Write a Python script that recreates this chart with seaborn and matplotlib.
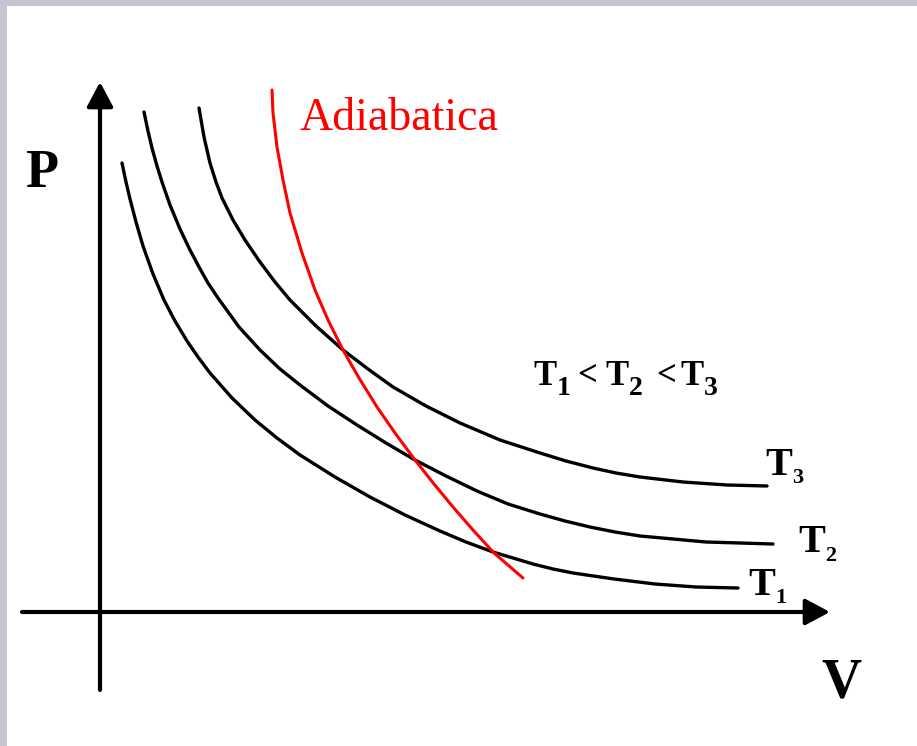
import numpy as np
import pandas as pd
import matplotlib
matplotlib.use("Agg")
import matplotlib.pyplot as plt
import seaborn as sns

# ---- data (V, P in arbitrary units, origin at the axes crossing) ----
t1_v = [0.22, 0.26, 0.30, 0.36, 0.43, 0.53, 0.64, 0.75, 0.87, 0.98, 1.10, 1.32, 1.55, 1.77, 2.00,
        2.35, 2.70, 3.05, 3.40, 3.66, 3.93, 4.13, 4.33, 4.53, 4.73, 5.14, 5.55, 5.96, 6.38]
t1_p = [4.49, 4.30, 4.13, 3.90, 3.66, 3.38, 3.12, 2.91, 2.71, 2.55, 2.39, 2.14, 1.92, 1.74, 1.57,
        1.35, 1.15, 0.97, 0.81, 0.70, 0.60, 0.54, 0.48, 0.43, 0.39, 0.33, 0.28, 0.25, 0.24]

t2_v = [0.44, 0.48, 0.52, 0.57, 0.62, 0.70, 0.80, 0.90, 0.99, 1.08, 1.18, 1.39, 1.60, 1.80, 2.00,
        2.28, 2.57, 2.86, 3.15, 3.46, 3.77, 4.08, 4.40, 4.65, 4.90, 5.15, 5.40, 5.73, 6.06, 6.40, 6.73]
t2_p = [5.00, 4.81, 4.64, 4.46, 4.30, 4.07, 3.83, 3.62, 3.45, 3.29, 3.14, 2.85, 2.62, 2.43, 2.27,
        2.06, 1.87, 1.69, 1.52, 1.36, 1.21, 1.08, 0.98, 0.91, 0.85, 0.80, 0.76, 0.73, 0.70, 0.69, 0.68]

t3_v = [0.99, 1.04, 1.10, 1.16, 1.22, 1.33, 1.45, 1.60, 1.75, 1.90, 2.16, 2.43, 2.68, 2.93, 3.26,
        3.60, 4.00, 4.40, 4.66, 4.93, 5.16, 5.40, 5.83, 6.27, 6.67]
t3_p = [5.04, 4.75, 4.49, 4.30, 4.14, 3.92, 3.72, 3.50, 3.30, 3.12, 2.86, 2.62, 2.43, 2.25, 2.06,
        1.89, 1.72, 1.59, 1.51, 1.44, 1.39, 1.35, 1.30, 1.27, 1.26]

ad_v = [1.72, 1.73, 1.77, 1.83, 1.90, 2.02, 2.15, 2.28, 2.43, 2.59, 2.77, 2.95, 3.15, 3.34, 3.53,
        3.73, 3.94, 4.23]
ad_p = [5.22, 4.99, 4.65, 4.32, 3.99, 3.59, 3.22, 2.92, 2.62, 2.34, 2.05, 1.79, 1.52, 1.28, 1.05,
        0.82, 0.59, 0.34]

# ---- layout helpers (1 data unit = 100 px) ----
W, H, DPI = 917, 746, 100
X0, Y0 = 100, 612  # pixel position of origin
def vx(px):
    return (px - X0) / 100.0
def py(px):
    return (Y0 - px) / 100.0

sns.set_theme(style="white")
plt.rcParams["font.family"] = ["Liberation Serif", "DejaVu Serif"]
plt.rcParams["text.color"] = "black"

fig = plt.figure(figsize=(W / DPI, H / DPI), dpi=DPI, facecolor="#C6C4D2")
left_b, top_b = 7, 6
ax = fig.add_axes([left_b / W, 0, (W - left_b) / W, (H - top_b) / H])
ax.set_facecolor("white")
ax.set_xlim(vx(left_b), vx(W))
ax.set_ylim(py(H), py(top_b))
ax.set_xticks([]); ax.set_yticks([])
for s in ax.spines.values():
    s.set_visible(False)

# ---- axes with arrows ----
arrow_kw = dict(arrowstyle="-|>,head_length=0.75,head_width=0.4", color="black",
                lw=3, mutation_scale=20, shrinkA=0, shrinkB=0)
ax.annotate("", xy=(vx(830), 0), xytext=(vx(22), 0), arrowprops=arrow_kw)
ax.annotate("", xy=(0, py(82)), xytext=(0, py(690)), arrowprops=arrow_kw)

# ---- curves ----
for v, p in [(t1_v, t1_p), (t2_v, t2_p), (t3_v, t3_p)]:
    sns.lineplot(x=v, y=p, sort=False, estimator=None, color="black", lw=2.4, ax=ax)
sns.lineplot(x=ad_v, y=ad_p, sort=False, estimator=None, color="#FF0000", lw=2.2, ax=ax)

# ---- texts ----
ax.text(vx(300), py(130), "Adiabatica", color="#FF0000", fontsize=33,
        ha="left", va="baseline")
ax.text(vx(42), py(187), "P", fontsize=39, fontweight="bold", ha="center", va="baseline",
        color="black")
ax.text(vx(841), py(697), "V", fontsize=40, fontweight="bold", ha="center", va="baseline",
        color="black")

def piece(xp, yp, s, size):
    ax.text(vx(xp), py(yp), s, fontsize=size, fontweight="bold", ha="left", va="baseline",
            color="black")

# curve labels
piece(765, 475, "T", 29); piece(792, 483, "3", 16)
piece(798, 552, "T", 29); piece(825, 561, "2", 16)
piece(748, 595, "T", 29); piece(775, 603, "1", 16)

# relation label
piece(533, 385, "T", 25); piece(557, 395, "1", 20)
piece(577, 385, "<", 25)
piece(605, 385, "T", 25); piece(629, 395, "2", 20)
piece(656, 385, "<", 25)
piece(680, 385, "T", 25); piece(704, 395, "3", 20)

fig.savefig("out.png", dpi=DPI, facecolor=fig.get_facecolor())
